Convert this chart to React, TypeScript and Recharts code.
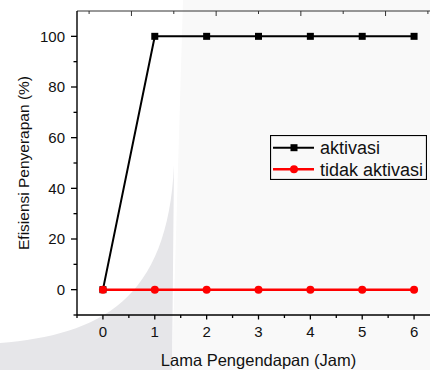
import React from 'react';
import { LineChart, Line, XAxis, YAxis, Legend, Label } from 'recharts';

const HOURS = [0, 1, 2, 3, 4, 5, 6];
const AKTIVASI = [0, 100, 100, 100, 100, 100, 100];
const TIDAK_AKTIVASI = [0, 0, 0, 0, 0, 0, 0];
const X_TICKS = [-0.5, 0, 0.5, 1, 1.5, 2, 2.5, 3, 3.5, 4, 4.5, 5, 5.5, 6, 6.5];
const Y_TICKS = [-10, 0, 10, 20, 30, 40, 50, 60, 70, 80, 90, 100];
const TOP_TICKS = [0.2, 0.9, 1.6, 2.3, 3.0, 3.7, 4.4, 5.1, 5.8, 6.5];
const SERIES_NAMES = ['aktivasi', 'tidak aktivasi'];
const SERIES_COLORS = ['#000000', '#ff0000'];

const data = HOURS.map((h, i) => ({
  hour: h,
  aktivasi: AKTIVASI[i],
  tidak: TIDAK_AKTIVASI[i],
}));

const FONT = '"Liberation Sans", Arial, sans-serif';

const XTick = (props: any) => {
  const { x, y, payload } = props;
  const v = payload.value;
  const major = Number.isInteger(v);
  return (
    <g>
      <line x1={x} y1={y} x2={x} y2={y + (major ? 4.5 : 3)} stroke="#000" strokeWidth={1.3} />
      {major && (
        <text x={x} y={y + 22} textAnchor="middle" fontSize={15} fontFamily={FONT} fill="#111">
          {v}
        </text>
      )}
    </g>
  );
};

const YTick = (props: any) => {
  const { x, y, payload } = props;
  const v = payload.value;
  const major = v % 20 === 0;
  return (
    <g>
      <line x1={x - (major ? 6 : 3.5)} y1={y} x2={x} y2={y} stroke="#000" strokeWidth={1.3} />
      {major && (
        <text x={x - 12} y={y} dy="0.355em" textAnchor="end" fontSize={15} fontFamily={FONT} fill="#111">
          {v}
        </text>
      )}
    </g>
  );
};

const TopTick = (props: any) => {
  const { x, y, index } = props;
  const long = index % 2 === 1;
  return <line x1={x} y1={y} x2={x} y2={y + (long ? 5 : 3)} stroke="#333" strokeWidth={1} />;
};

const YLabel = (props: any) => {
  const vb = props.viewBox;
  const cx = vb.x + 28.5;
  const cy = vb.y + vb.height / 2;
  return (
    <text x={cx} y={cy} transform={`rotate(-90 ${cx} ${cy})`} textAnchor="middle" fontSize={15.5} fontFamily={FONT} fill="#111">
      Efisiensi Penyerapan (%)
    </text>
  );
};

const XLabel = (props: any) => {
  const vb = props.viewBox;
  return (
    <text x={vb.x + vb.width / 2} y={vb.y + 51} textAnchor="middle" fontSize={16.5} fontFamily={FONT} fill="#111">
      Lama Pengendapan (Jam)
    </text>
  );
};

const SquareDot = (props: any) => {
  const { cx, cy, index } = props;
  if (cx == null || cy == null) return <g key={index} />;
  return <rect key={index} x={cx - 3.5} y={cy - 3.5} width={7} height={7} fill="#000" />;
};

const CircleDot = (props: any) => {
  const { cx, cy, index } = props;
  if (cx == null || cy == null) return <g key={index} />;
  return <circle key={index} cx={cx} cy={cy} r={4} fill="#ff0000" />;
};

const LegendContent = () => {
  const rows = [12.7, 34.3];
  return (
    <svg width={157} height={45} style={{ display: 'block' }}>
      <rect x={0.5} y={0.5} width={156} height={44} fill="none" stroke="#000" strokeWidth={1.2} />
      {SERIES_NAMES.map((name, i) => (
        <g key={name}>
          <line x1={3} y1={rows[i]} x2={44} y2={rows[i]} stroke={SERIES_COLORS[i]} strokeWidth={i === 0 ? 2 : 2.5} />
          {i === 0 ? (
            <rect x={24 - 3.5} y={rows[i] - 3.5} width={7} height={7} fill="#000" />
          ) : (
            <circle cx={24} cy={rows[i]} r={4} fill="#ff0000" />
          )}
          <text x={50} y={rows[i]} dy="0.355em" fontSize={18} fontFamily={FONT} fill="#111">
            {name}
          </text>
        </g>
      ))}
    </svg>
  );
};

export default function App() {
  return (
    <div style={{ position: 'absolute', left: 0, top: 0, width: 430, height: 370, overflow: 'hidden', background: '#ffffff' }}>
      <svg width={430} height={370} style={{ position: 'absolute', left: 0, top: 0 }}>
        <polygon points="183,0 430,0 430,370 172,370" fill="#f9f9f9" />
        <path d="M0,343 C100,335 168,300 174,165 L172,370 L0,370 Z" fill="#e6e6e9" />
      </svg>
      <div style={{ position: 'absolute', left: 0, top: 0 }}>
        <LineChart width={440} height={370} data={data} margin={{ top: 10, right: 0, bottom: 0, left: 0 }}>
          <XAxis
            xAxisId="top"
            orientation="top"
            type="number"
            domain={[-0.5, 6.5]}
            allowDataOverflow
            ticks={TOP_TICKS}
            interval={0}
            height={1}
            tickSize={0}
            tickMargin={0}
            tickLine={false}
            axisLine={{ stroke: '#333', strokeWidth: 1 }}
            tick={<TopTick />}
          />
          <XAxis
            xAxisId="bottom"
            dataKey="hour"
            type="number"
            domain={[-0.5, 6.5]}
            ticks={X_TICKS}
            interval={0}
            height={55}
            tickSize={0}
            tickMargin={0}
            tickLine={false}
            axisLine={{ stroke: '#000', strokeWidth: 1.4 }}
            tick={<XTick />}
          >
            <Label content={<XLabel />} />
          </XAxis>
          <YAxis
            type="number"
            domain={[-10, 110]}
            ticks={Y_TICKS}
            interval={0}
            width={77}
            tickSize={0}
            tickMargin={0}
            tickLine={false}
            axisLine={{ stroke: '#000', strokeWidth: 1.4 }}
            tick={<YTick />}
          >
            <Label content={<YLabel />} />
          </YAxis>
          <Legend
            layout="horizontal"
            verticalAlign="middle"
            align="center"
            content={<LegendContent />}
            wrapperStyle={{ left: 270, top: 135, right: 'auto', bottom: 'auto', width: 157, height: 45 }}
          />
          <Line
            xAxisId="bottom"
            type="linear"
            dataKey="aktivasi"
            name={SERIES_NAMES[0]}
            stroke={SERIES_COLORS[0]}
            strokeWidth={2}
            dot={SquareDot}
            activeDot={false}
            isAnimationActive={false}
          />
          <Line
            xAxisId="bottom"
            type="linear"
            dataKey="tidak"
            name={SERIES_NAMES[1]}
            stroke={SERIES_COLORS[1]}
            strokeWidth={2.5}
            dot={CircleDot}
            activeDot={false}
            isAnimationActive={false}
          />
        </LineChart>
      </div>
    </div>
  );
}
